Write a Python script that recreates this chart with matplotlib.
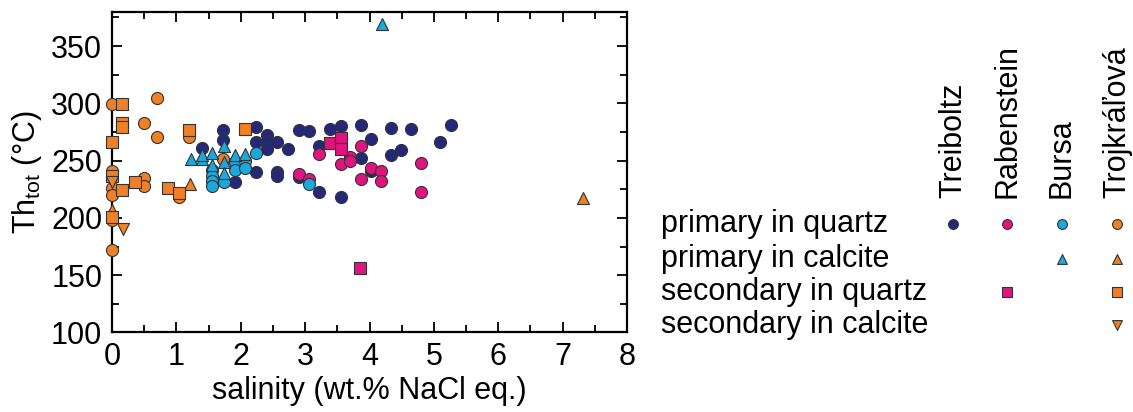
import numpy as np
import matplotlib
matplotlib.use('Agg')
import matplotlib.pyplot as plt
from matplotlib.ticker import MultipleLocator

plt.rcParams['font.family'] = ['Liberation Sans', 'DejaVu Sans']
plt.rcParams['mathtext.default'] = 'regular'

# Treiboltz - primary in quartz
treib_pq_x = [1.39, 1.73, 1.73, 1.91, 2.23, 2.23, 2.23, 2.40, 2.40, 2.40, 2.57, 2.57,
              2.57, 2.73, 2.90, 2.90, 3.06, 3.22, 3.22, 3.38, 3.55, 3.55, 3.86, 3.86,
              4.03, 4.03, 4.34, 4.34, 4.49, 4.65, 5.10, 5.26]
treib_pq_y = [261, 277, 268, 231, 279, 266, 240, 272, 266, 260, 266, 240,
              237, 260, 276.5, 236, 276, 263, 222.5, 278, 280, 218, 281, 252,
              269, 241, 278.5, 255, 259, 278, 266, 281]

# Rabenstein - primary in quartz / secondary in quartz
rab_pq_x = [2.90, 3.06, 3.22, 3.55, 3.70, 3.70, 3.86, 3.86, 4.03, 4.18, 4.18, 4.80, 4.80]
rab_pq_y = [238, 234, 256, 247, 253, 250, 263, 234, 243.5, 241, 232, 248, 223]
rab_sq_x = [3.38, 3.55, 3.55, 3.85]
rab_sq_y = [265, 270, 260.5, 156]

# Bursa - primary in quartz / primary in calcite
bursa_pq_x = [1.56, 1.56, 1.56, 1.56, 1.74, 1.91, 1.91, 2.07, 2.07, 2.24, 3.06]
bursa_pq_y = [241.5, 237, 232, 228, 231.5, 249, 242, 250, 243.5, 257, 230]
bursa_pc_x = [1.22, 1.40, 1.40, 1.56, 1.74, 1.74, 1.91, 2.07, 1.56, 1.74, 4.19]
bursa_pc_y = [251, 251, 255, 256.5, 263, 249, 255, 255.5, 246.5, 239, 369]

# Trojkralova - all four inclusion types
troj_pq_x = [0, 0.70, 0.50, 0.70, 1.20, 0.50, 0.50, 1.04, 0, 0, 0, 0, 0, 1.72]
troj_pq_y = [299, 305, 283, 271, 271, 235, 228, 218, 241, 226, 220, 198, 172, 251.5]
troj_pc_x = [1.21, 0, 7.32]
troj_pc_y = [230, 207, 217]
troj_sq_x = [0.15, 0.15, 0.15, 0, 1.20, 0.35, 0.87, 1.04, 0.15, 0, 0, 2.07]
troj_sq_y = [299, 283, 279, 266, 277, 231, 226, 222, 224, 237, 201, 278]
troj_sc_x = [0, 0.17]
troj_sc_y = [231, 190]

localities = ['Treiboltz', 'Rabenstein', 'Bursa', 'Trojkráľová']
colors = ['#23287a', '#e0147f', '#1ba8df', '#ef8026']
types = ['primary in quartz', 'primary in calcite',
         'secondary in quartz', 'secondary in calcite']
markers = ['o', '^', 's', 'v']

# which (locality, type) combinations exist, in drawing order
series = [
    (0, 0, treib_pq_x, treib_pq_y),
    (1, 0, rab_pq_x, rab_pq_y),
    (1, 2, rab_sq_x, rab_sq_y),
    (3, 0, troj_pq_x, troj_pq_y),
    (3, 1, troj_pc_x, troj_pc_y),
    (3, 2, troj_sq_x, troj_sq_y),
    (3, 3, troj_sc_x, troj_sc_y),
    (2, 0, bursa_pq_x, bursa_pq_y),
    (2, 1, bursa_pc_x, bursa_pc_y),
]

FS = 22

fig = plt.figure(figsize=(11.33, 4.12), dpi=100)
ax = fig.add_axes([0.0989, 0.193, 0.4545, 0.7786])

for loc, typ, xs, ys in series:
    ax.scatter(xs, ys, s=75, marker=markers[typ], c=colors[loc],
               edgecolors='#333333', linewidths=0.8, zorder=3, clip_on=False)

ax.set_xlim(0, 8)
ax.set_ylim(100, 380)
ax.xaxis.set_major_locator(MultipleLocator(1))
ax.xaxis.set_minor_locator(MultipleLocator(0.5))
ax.yaxis.set_major_locator(MultipleLocator(50))
ax.yaxis.set_minor_locator(MultipleLocator(25))
ax.set_yticks(np.arange(100, 351, 50))
ax.tick_params(which='both', direction='in', top=True, right=True,
               width=1.3, labelsize=FS, pad=7, colors='black')
ax.tick_params(which='major', length=7)
ax.tick_params(which='minor', length=5)
for sp in ax.spines.values():
    sp.set_linewidth(1.6)

ax.set_xlabel('salinity (wt.% NaCl eq.)', fontsize=FS, labelpad=3)
ax.set_ylabel(r'Th$_{tot}$ (°C)', fontsize=FS, labelpad=5)

# custom legend grid: locality columns, inclusion type rows
lg = fig.add_axes([0, 0, 1, 1], zorder=5)
lg.set_xlim(0, 1133)
lg.set_ylim(412, 0)
lg.axis('off')

col_x = [953, 1007, 1062, 1117]
row_y = [224, 259, 292, 325]

for i, name in enumerate(localities):
    lg.text(col_x[i], 198, name, rotation=90, ha='center', va='bottom', fontsize=FS)
for j, label in enumerate(types):
    lg.text(661, row_y[j], label, ha='left', va='center', fontsize=FS)

for loc, typ, xs, ys in series:
    lg.scatter([col_x[loc]], [row_y[typ]], s=50, marker=markers[typ], c=colors[loc],
               edgecolors='#333333', linewidths=0.8)

fig.savefig('out.png', dpi=100)
